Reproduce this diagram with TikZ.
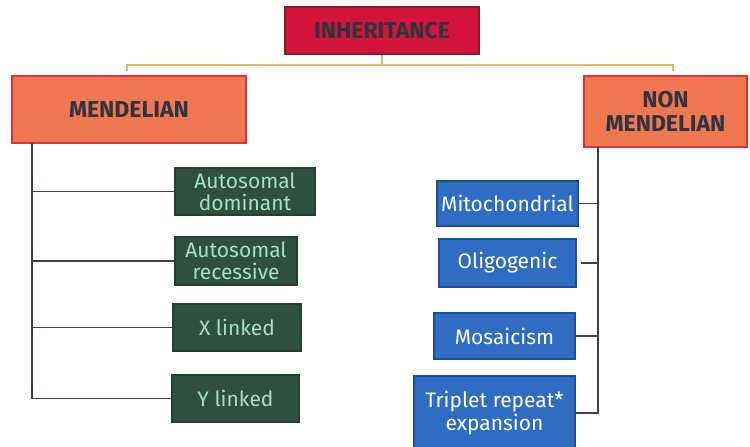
\documentclass[tikz,border=0pt]{standalone}
\usepackage{fontspec}
\setmainfont{Fira Sans}
\definecolor{inhfill}{HTML}{D2143C}
\definecolor{inhdraw}{HTML}{8B1A2B}
\definecolor{headtext}{HTML}{2E3440}
\definecolor{menfill}{HTML}{F07850}
\definecolor{mendraw}{HTML}{E0303A}
\definecolor{grfill}{HTML}{2F4F40}
\definecolor{grtext}{HTML}{A3E2C4}
\definecolor{blfill}{HTML}{2F6DC4}
\definecolor{bldraw}{HTML}{1E4E9A}
\definecolor{conn}{HTML}{3A3F55}
\definecolor{topline}{HTML}{E8B86A}
\tikzset{
  box/.style={inner sep=0pt, align=center, line width=1.2pt},
  headbox/.style={box, fill=menfill, draw=mendraw, text=headtext, font=\fontsize{23}{24}\selectfont\bfseries},
  greenbox/.style={box, fill=grfill, draw=grfill!80!black, text=grtext, font=\fontsize{21}{22}\selectfont},
  bluebox/.style={box, fill=blfill, draw=bldraw, text=white, font=\fontsize{21}{23}\selectfont},
  link/.style={draw=conn, line width=1.3pt},
  toplink/.style={draw=topline, line width=2pt}
}
\begin{document}
\begin{tikzpicture}[x=1pt,y=-1pt]
\useasboundingbox[fill=white] (0,0) rectangle (750,447);
% top
\node[box, fill=inhfill, draw=inhdraw, text=headtext, font=\fontsize{23}{24}\selectfont\bfseries,
  minimum width=194pt, minimum height=47pt] (inh) at (382,30.5) {INHERITANCE};
\node[headbox, minimum width=234pt, minimum height=67pt] (mend) at (129,109.5) {MENDELIAN};
\node[headbox, minimum width=163pt, minimum height=71pt] (nonm) at (665.5,111.5) {NON\\MENDELIAN};
% top connector
\coordinate (tl) at (127,71);
\coordinate (tr) at (673,71);
\coordinate (hm) at (382,65);
\draw[toplink] (inh.south) -- (hm);
\draw[toplink] (tl) |- (hm) -| (tr);
% green boxes
\node[greenbox, minimum width=140pt, minimum height=47pt] (ad) at (245,191.5) {Autosomal\\dominant};
\node[greenbox, minimum width=122pt, minimum height=48pt] (ar) at (236,261) {Autosomal\\recessive};
\node[greenbox, minimum width=128pt, minimum height=47pt] (xl) at (237,327.5) {X linked};
\node[greenbox, minimum width=127pt, minimum height=47pt] (yl) at (235.5,398.5) {Y linked};
% blue boxes
\node[bluebox, minimum width=141pt, minimum height=45pt] (mito) at (507.5,203.5) {Mitochondrial};
\node[bluebox, minimum width=137pt, minimum height=48pt] (oligo) at (507.5,263) {Oligogenic};
\node[bluebox, minimum width=141pt, minimum height=46pt] (mosa) at (504.5,336) {Mosaicism};
\node[bluebox, minimum width=161pt, minimum height=74pt] (trip) at (494.5,413) {Triplet repeat*\\expansion};
% left connectors
\coordinate (mv) at (32,143);
\draw[link] (mv) |- (yl.west);
\draw[link] (mv |- ad.west) -- (ad.west);
\draw[link] (mv |- ar.west) -- (ar.west);
\draw[link] (mv |- xl.west) -- (xl.west);
% right connectors
\coordinate (nv) at (598,147);
\coordinate (og) at (581,263);
\draw[link] (nv) |- (trip.east);
\draw[link] (mito.east) -- (mito.east -| nv);
\draw[link] (og) -- (og -| nv);
\draw[link] (mosa.east) -- (mosa.east -| nv);
\end{tikzpicture}
\end{document}
